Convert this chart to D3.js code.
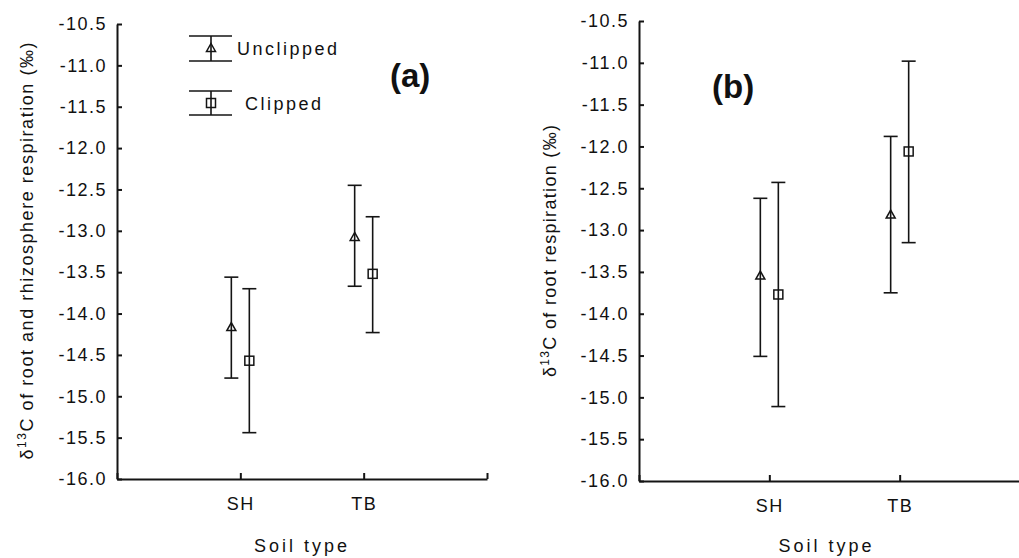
<!DOCTYPE html>
<html>
<head>
<meta charset="utf-8">
<script src="https://cdn.jsdelivr.net/npm/d3@7"></script>
<style>
  body { margin: 0; background: #fff; }
  svg { display: block; font-family: Arial, "Liberation Sans", sans-serif; }
</style>
</head>
<body>
<svg id="chart" width="1019" height="558"></svg>
<script>
// categories and y ticks
const categories = ["SH", "TB"];
const yTicks = [-16.0, -15.5, -15.0, -14.5, -14.0, -13.5, -13.0, -12.5, -12.0, -11.5, -11.0, -10.5];

// panel (a): root and rhizosphere respiration
const aUnclippedMean = [-14.17, -13.08];
const aUnclippedHigh = [-13.56, -12.45];
const aUnclippedLow  = [-14.78, -13.67];
const aClippedMean   = [-14.57, -13.52];
const aClippedHigh   = [-13.70, -12.83];
const aClippedLow    = [-15.44, -14.23];

// panel (b): root respiration
const bUnclippedMean = [-13.55, -12.82];
const bUnclippedHigh = [-12.62, -11.88];
const bUnclippedLow  = [-14.51, -13.75];
const bClippedMean   = [-13.77, -12.06];
const bClippedHigh   = [-12.43, -10.98];
const bClippedLow    = [-15.11, -13.15];

const svg = d3.select("#chart");
const ink = "#141414";

function buildSeries(mean, high, low) {
    return categories.map((c, i) => ({ cat: c, idx: i + 1, mean: mean[i], high: high[i], low: low[i] }));
}

// marker shapes (open, error line runs through them)
function drawMarker(g, kind, cx, cy) {
    if (kind === "tri") {
        g.append("path")
            .attr("d", `M${cx},${cy - 5} L${cx + 4.5},${cy + 3} L${cx - 4.5},${cy + 3} Z`)
            .attr("fill", "none").attr("stroke", ink).attr("stroke-width", 1.5);
    } else {
        g.append("rect")
            .attr("x", cx - 4.5).attr("y", cy - 4.5)
            .attr("width", 9).attr("height", 9)
            .attr("fill", "none").attr("stroke", ink).attr("stroke-width", 1.5);
    }
}

function drawErrorBar(g, x, y, d, offset, kind) {
    const cx = x(d.idx) + offset;
    g.append("line")
        .attr("x1", cx).attr("x2", cx)
        .attr("y1", y(d.high)).attr("y2", y(d.low))
        .attr("stroke", ink).attr("stroke-width", 1.6);
    [d.high, d.low].forEach(v => {
        g.append("line")
            .attr("x1", cx - 7).attr("x2", cx + 7)
            .attr("y1", y(v)).attr("y2", y(v))
            .attr("stroke", ink).attr("stroke-width", 1.6);
    });
    drawMarker(g, kind, cx, y(d.mean));
}

function drawPanel(cfg) {
    const g = svg.append("g");

    const x = d3.scaleLinear().domain([0, 3]).range([cfg.left, cfg.right]);
    const y = d3.scaleLinear().domain([-16, -10.5]).range([cfg.bottom, cfg.top]);

    // y axis, ticks pointing inward
    const yAxis = d3.axisLeft(y)
        .tickValues(yTicks)
        .tickFormat(d => d.toFixed(1))
        .tickSize(-5)
        .tickPadding(10)
        .tickSizeOuter(0);

    const yG = g.append("g")
        .attr("transform", `translate(${cfg.left},0)`)
        .call(yAxis);

    // x axis, categories at 1 and 2, end ticks at 0 and 3
    const xAxis = d3.axisBottom(x)
        .tickValues([0, 1, 2, 3])
        .tickFormat(d => categories[d - 1] || "")
        .tickSize(-6)
        .tickPadding(18)
        .tickSizeOuter(0);

    const xG = g.append("g")
        .attr("transform", `translate(0,${cfg.bottom})`)
        .call(xAxis);

    [yG, xG].forEach(ax => {
        ax.select(".domain").attr("stroke", ink).attr("stroke-width", 2);
        ax.selectAll(".tick line").attr("stroke", ink).attr("stroke-width", 2);
        ax.selectAll(".tick text")
            .attr("fill", "#111")
            .style("font-size", "18px")
            .style("letter-spacing", "1.5px");
    });

    // y axis title, rotated, with superscript 13
    const title = g.append("text")
        .attr("transform", `translate(${cfg.titleX},${cfg.titleY}) rotate(-90)`)
        .attr("text-anchor", "middle")
        .attr("fill", "#111")
        .style("font-size", "18px")
        .attr("textLength", cfg.titleLen)
        .attr("lengthAdjust", "spacing");
    title.append("tspan").text("δ");
    title.append("tspan").attr("dy", -7).style("font-size", "12px").text("13");
    title.append("tspan").attr("dy", 7).text(cfg.titleText);

    // x axis title
    g.append("text")
        .attr("x", (cfg.left + x(3)) / 2 + (cfg.xTitleShift || 0))
        .attr("y", 552)
        .attr("text-anchor", "middle")
        .attr("fill", "#111")
        .style("font-size", "18px")
        .style("letter-spacing", "3px")
        .text("Soil type");

    // panel letter
    g.append("text")
        .attr("x", cfg.letterX).attr("y", cfg.letterY)
        .attr("fill", "#111")
        .style("font-size", "33px")
        .style("font-weight", "bold")
        .text(cfg.letter);

    // error bars
    cfg.unclipped.forEach(d => drawErrorBar(g, x, y, d, -9, "tri"));
    cfg.clipped.forEach(d => drawErrorBar(g, x, y, d, 9, "sq"));

    return g;
}

const gA = drawPanel({
    left: 117, right: 487, top: 24, bottom: 479,
    titleX: 33, titleY: 251, titleLen: 417,
    titleText: "C of root and rhizosphere respiration (‰)",
    letter: "(a)", letterX: 390, letterY: 87,
    unclipped: buildSeries(aUnclippedMean, aUnclippedHigh, aUnclippedLow),
    clipped: buildSeries(aClippedMean, aClippedHigh, aClippedLow)
});

drawPanel({
    left: 639, right: 1030, top: 21, bottom: 481,
    titleX: 556, titleY: 251, titleLen: 252,
    titleText: "C of root respiration (‰)",
    xTitleShift: -8,
    letter: "(b)", letterX: 712, letterY: 98,
    unclipped: buildSeries(bUnclippedMean, bUnclippedHigh, bUnclippedLow),
    clipped: buildSeries(bClippedMean, bClippedHigh, bClippedLow)
});

// legend in panel (a)
const legend = gA.append("g");
const legendItems = [
    { label: "Unclipped", kind: "tri", top: 36, bottom: 61, textX: 237, textY: 55 },
    { label: "Clipped", kind: "sq", top: 91, bottom: 115, textX: 245, textY: 110 }
];
legendItems.forEach(it => {
    const cx = 211;
    [it.top, it.bottom].forEach(v => {
        legend.append("line")
            .attr("x1", 189).attr("x2", 232)
            .attr("y1", v).attr("y2", v)
            .attr("stroke", ink).attr("stroke-width", 1.6);
    });
    legend.append("line")
        .attr("x1", cx).attr("x2", cx)
        .attr("y1", it.top).attr("y2", it.bottom)
        .attr("stroke", ink).attr("stroke-width", 1.6);
    drawMarker(legend, it.kind, cx, (it.top + it.bottom) / 2);
    legend.append("text")
        .attr("x", it.textX).attr("y", it.textY)
        .attr("fill", "#111")
        .style("font-size", "18px")
        .style("letter-spacing", "2.5px")
        .text(it.label);
});
</script>
</body>
</html>
